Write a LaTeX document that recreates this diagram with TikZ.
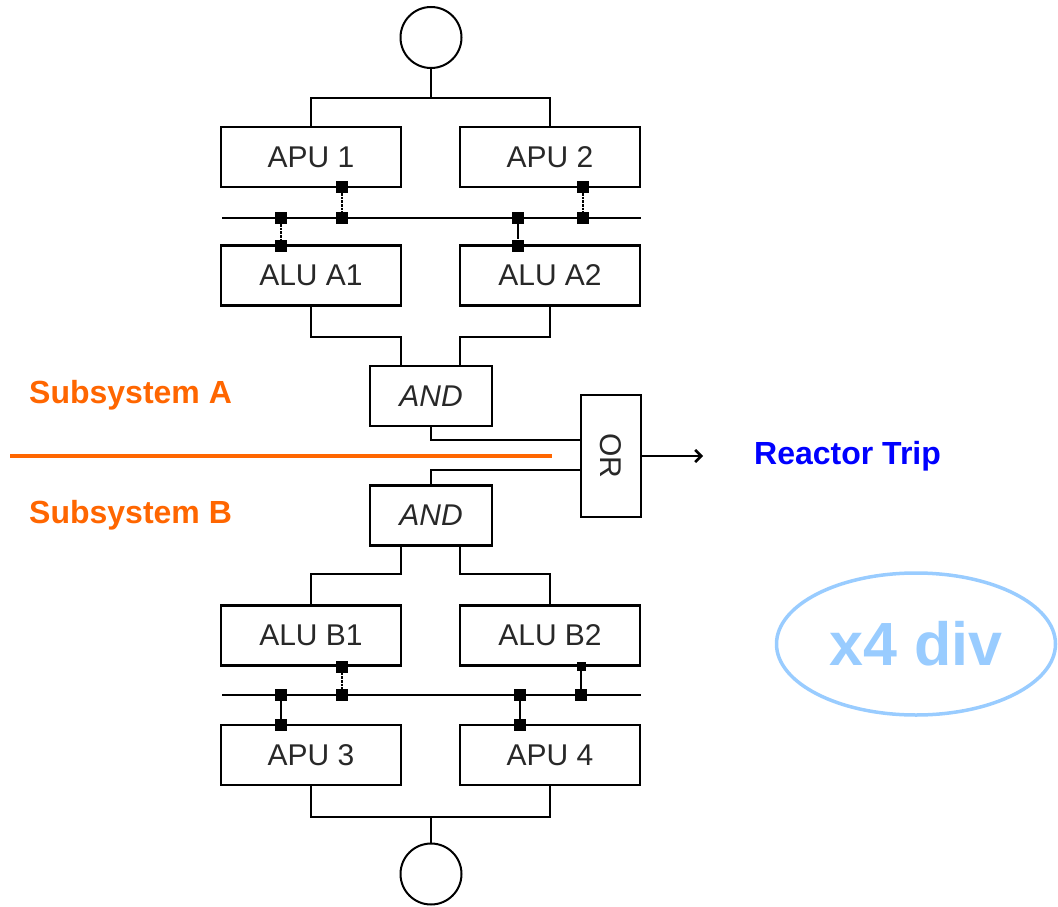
\documentclass[tikz,border=0pt]{standalone}
\usepackage{fontspec}
\setmainfont{Liberation Sans}
\usetikzlibrary{shapes.geometric,arrows.meta}
\definecolor{subor}{RGB}{255,102,0}
\definecolor{tripblue}{RGB}{0,0,255}
\definecolor{divblue}{RGB}{153,204,255}
\definecolor{boxtext}{RGB}{40,40,40}
\tikzset{
  box/.style={draw, line width=2.2pt, fill=white, minimum width=180pt, minimum height=60pt, inner sep=0pt, text=boxtext, font=\fontsize{30}{36}\selectfont},
  gate/.style={box, minimum width=122pt, font=\fontsize{30}{36}\selectfont\itshape},
  circ/.style={draw, circle, line width=2pt, minimum size=61pt, inner sep=0pt},
  sq/.style={fill=black, minimum size=12pt, inner sep=0pt},
  wire/.style={line width=2.6pt},
  dwire/.style={line width=2.6pt, densely dotted},
  sublabel/.style={text=subor, font=\fontsize{32}{36}\selectfont\bfseries, anchor=west, inner sep=0pt},
}
\begin{document}
\begin{tikzpicture}[x=1pt,y=-1pt]
\useasboundingbox (0,0) rectangle (1058,907);
% circles
\node[circ] (top) at (431,37.5) {};
\node[circ] (bot) at (431,874) {};
% subsystem A boxes
\node[box] (apu1) at (311,157) {APU 1};
\node[box] (apu2) at (550,157) {APU 2};
\node[box] (alua1) at (311,275.5) {ALU A1};
\node[box] (alua2) at (550,275.5) {ALU A2};
\node[gate] (anda) at (431,396) {AND};
% subsystem B boxes
\node[gate] (andb) at (431,515.5) {AND};
\node[box] (alub1) at (311,635.5) {ALU B1};
\node[box] (alub2) at (550,635.5) {ALU B2};
\node[box] (apu3) at (311,755) {APU 3};
\node[box] (apu4) at (550,755) {APU 4};
% OR gate
\node[draw, line width=2.2pt, minimum width=60pt, minimum height=122pt, inner sep=0pt,
      label={[rotate=-90, text=boxtext, font=\fontsize{30}{36}\selectfont]center:OR}] (or) at (611,456) {};
% junction coordinates
\coordinate (jt) at (431,98);
\coordinate (jb) at (431,817);
\coordinate (ka1) at (401,337);
\coordinate (ka2) at (460,337);
\coordinate (kb1) at (401,574);
\coordinate (kb2) at (460,574);
\coordinate (busal) at (222,218);
\coordinate (busar) at (641,218);
\coordinate (busbl) at (222,695);
\coordinate (busbr) at (641,695);
\coordinate (ol) at (10,456);
\coordinate (orr) at (552,456);
\coordinate (ae) at (703,456);
% top tree
\draw[wire] (top) -- (jt);
\draw[wire] (apu1.north) |- (jt) -| (apu2.north);
% bottom tree
\draw[wire] (bot) -- (jb);
\draw[wire] (apu3.south) |- (jb) -| (apu4.south);
% ALU A to AND A
\draw[wire] (alua1.south) |- (ka1) -- (ka1 |- anda.north);
\draw[wire] (alua2.south) |- (ka2) -- (ka2 |- anda.north);
% AND B to ALU B
\draw[wire] (alub1.north) |- (kb1) -- (kb1 |- andb.south);
\draw[wire] (alub2.north) |- (kb2) -- (kb2 |- andb.south);
% AND to OR
\draw[wire] (anda.south) |- ([yshift=16pt]or.west);
\draw[wire] (andb.north) |- ([yshift=-14pt]or.west);
% output arrow
\draw[wire, -{Straight Barb[length=6pt, width=12pt]}] (or.east) -- (ae);
\node[anchor=west, inner sep=0pt, text=tripblue, font=\fontsize{32}{36}\selectfont\bfseries] (trip) at (754,456) {Reactor Trip};
% buses
\draw[wire] (busal) -- (busar);
\draw[wire] (busbl) -- (busbr);
% squares subsystem A
\node[sq] (s1) at (342,187) {};
\node[sq] (s2) at (342,218) {};
\node[sq] (s3) at (281,218) {};
\node[sq] (s4) at (281,245.5) {};
\node[sq] (s5) at (583,187) {};
\node[sq] (s6) at (583,218) {};
\node[sq] (s7) at (518,218) {};
\node[sq] (s8) at (518,245.5) {};
\draw[dwire] (s1) -- (s2);
\draw[dwire] (s3) -- (s4);
\draw[dwire] (s5) -- (s6);
\draw[wire] (s7) -- (s8);
% squares subsystem B
\node[sq] (t1) at (342,666.5) {};
\node[sq] (t2) at (342,695) {};
\node[sq] (t3) at (281,695) {};
\node[sq] (t4) at (281,725) {};
\node[sq, minimum size=9pt] (t5) at (581,666.5) {};
\node[sq] (t6) at (581,695) {};
\node[sq] (t7) at (520,695) {};
\node[sq] (t8) at (520,725) {};
\draw[dwire] (t1) -- (t2);
\draw[wire] (t3) -- (t4);
\draw[wire] (t5) -- (t6);
\draw[wire] (t7) -- (t8);
% subsystem separator and labels
\draw[line width=4.5pt, subor] (ol) -- (orr);
\node[sublabel] (suba) at (29,395) {Subsystem A};
\node[sublabel] (subb) at (29,515) {Subsystem B};
% x4 div
\node[draw=divblue, ellipse, line width=3.5pt, minimum width=279pt, minimum height=142pt,
      text=divblue, font=\fontsize{61}{70}\selectfont\bfseries] (div) at (916,644) {x4 div};
\end{tikzpicture}
\end{document}
